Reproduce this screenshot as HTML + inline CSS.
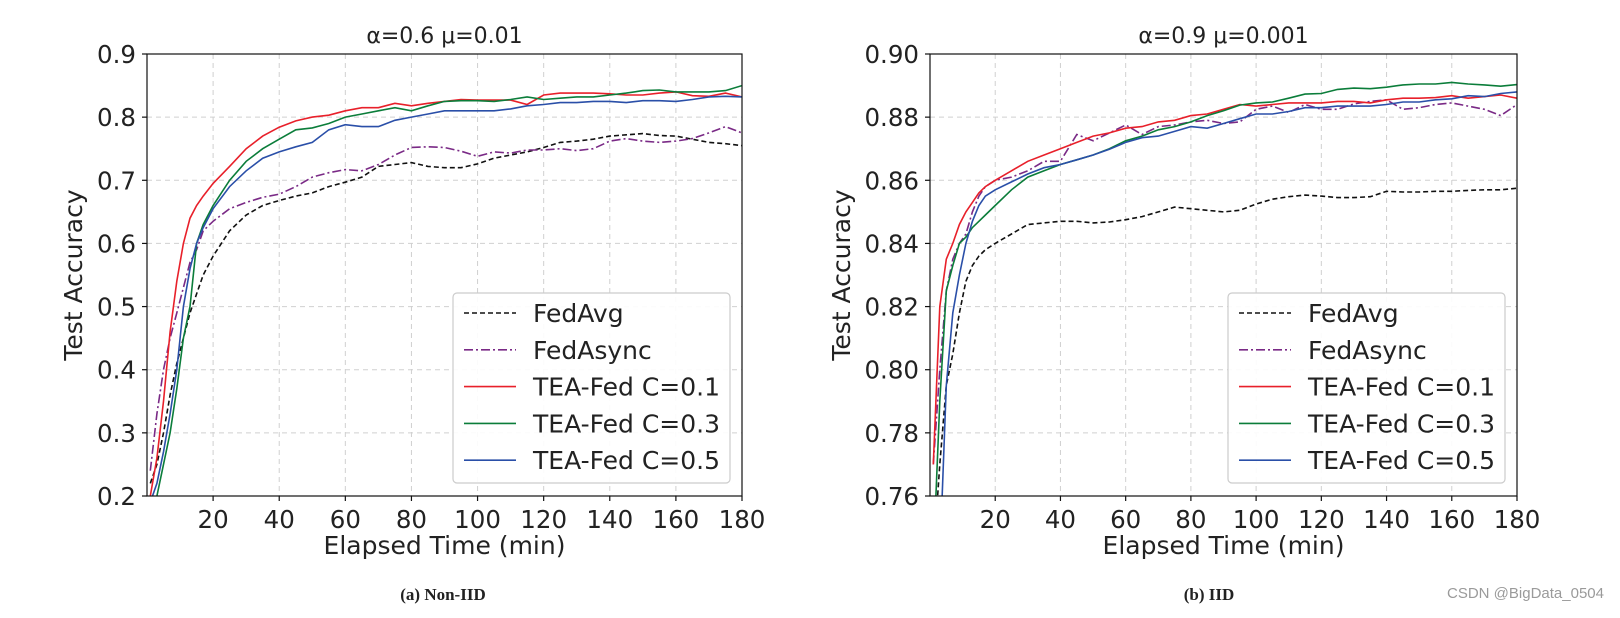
<!DOCTYPE html>
<html><head><meta charset="utf-8">
<style>
body{margin:0;background:#fff;width:1620px;height:614px;overflow:hidden;font-family:"DejaVu Sans","Liberation Sans",sans-serif;}
svg text{fill:#222;}
</style></head>
<body>
<svg id="fig" width="1620" height="614" viewBox="0 0 1620 614" xmlns="http://www.w3.org/2000/svg"></svg>
<script>
const times=[1,3,5,7,9,11,13,15,17,20,25,30,35,40,45,50,55,60,65,70,75,80,85,90,95,100,105,110,115,120,125,130,135,140,145,150,155,160,165,170,175,180];
const seriesNames=["FedAvg","FedAsync","TEA-Fed C=0.1","TEA-Fed C=0.3","TEA-Fed C=0.5"];
const leftFedAvg=[0.22,0.25,0.30,0.36,0.41,0.45,0.49,0.52,0.55,0.58,0.62,0.645,0.66,0.668,0.675,0.68,0.69,0.697,0.705,0.722,0.725,0.728,0.722,0.72,0.72,0.726,0.735,0.74,0.745,0.752,0.76,0.762,0.765,0.77,0.772,0.774,0.771,0.77,0.765,0.76,0.758,0.755];
const leftFedAsync=[0.24,0.33,0.40,0.45,0.49,0.53,0.57,0.59,0.62,0.635,0.655,0.665,0.673,0.678,0.69,0.705,0.712,0.717,0.715,0.725,0.74,0.752,0.753,0.752,0.746,0.738,0.745,0.743,0.748,0.748,0.75,0.747,0.75,0.762,0.766,0.762,0.76,0.762,0.766,0.775,0.785,0.775];
const leftC01=[0.2,0.26,0.35,0.46,0.54,0.6,0.64,0.66,0.675,0.695,0.722,0.75,0.77,0.784,0.794,0.8,0.803,0.81,0.815,0.815,0.822,0.818,0.822,0.825,0.828,0.827,0.827,0.827,0.82,0.835,0.838,0.838,0.838,0.837,0.835,0.835,0.838,0.84,0.834,0.833,0.838,0.832];
const leftC03=[0.17,0.2,0.25,0.3,0.37,0.45,0.5,0.6,0.63,0.66,0.7,0.73,0.75,0.765,0.78,0.783,0.79,0.8,0.805,0.81,0.815,0.81,0.818,0.825,0.826,0.826,0.825,0.828,0.832,0.828,0.83,0.832,0.832,0.835,0.838,0.842,0.843,0.84,0.84,0.84,0.842,0.85];
const leftC05=[0.19,0.22,0.27,0.33,0.4,0.5,0.56,0.6,0.625,0.655,0.69,0.715,0.735,0.745,0.753,0.76,0.78,0.788,0.785,0.785,0.795,0.8,0.805,0.81,0.81,0.81,0.81,0.813,0.818,0.82,0.823,0.823,0.825,0.825,0.823,0.826,0.826,0.825,0.828,0.832,0.833,0.832];
const rightFedAvg=[0.74,0.77,0.795,0.805,0.818,0.828,0.833,0.836,0.838,0.84,0.843,0.846,0.8465,0.847,0.847,0.8465,0.8468,0.8475,0.8485,0.85,0.8515,0.851,0.8505,0.85,0.8505,0.8525,0.854,0.8548,0.8553,0.855,0.8545,0.8545,0.8548,0.8565,0.8563,0.8563,0.8565,0.8565,0.8568,0.857,0.857,0.8575];
const rightFedAsync=[0.77,0.80,0.825,0.835,0.84,0.843,0.85,0.855,0.858,0.86,0.861,0.863,0.866,0.866,0.8745,0.8725,0.875,0.8775,0.8745,0.877,0.8775,0.8785,0.879,0.878,0.8785,0.8825,0.8835,0.8815,0.884,0.8825,0.8825,0.8842,0.885,0.8855,0.8825,0.883,0.884,0.8845,0.8835,0.8825,0.8805,0.884];
const rightC01=[0.77,0.82,0.835,0.84,0.846,0.85,0.853,0.856,0.858,0.86,0.863,0.866,0.868,0.87,0.872,0.874,0.875,0.8765,0.877,0.8785,0.879,0.8805,0.881,0.8825,0.884,0.8835,0.884,0.8845,0.8845,0.8845,0.885,0.885,0.8845,0.8855,0.886,0.886,0.8862,0.8868,0.886,0.8865,0.887,0.886];
const rightC03=[0.74,0.79,0.825,0.833,0.84,0.842,0.845,0.847,0.849,0.852,0.857,0.861,0.863,0.865,0.8665,0.868,0.87,0.8725,0.874,0.876,0.877,0.8785,0.8805,0.882,0.8838,0.8845,0.8848,0.886,0.8873,0.8875,0.8888,0.8892,0.889,0.8895,0.8902,0.8905,0.8905,0.891,0.8905,0.8902,0.8898,0.8903];
const rightC05=[0.72,0.74,0.795,0.818,0.83,0.84,0.847,0.852,0.855,0.857,0.8595,0.862,0.864,0.865,0.8665,0.868,0.8698,0.872,0.8735,0.874,0.8755,0.877,0.8765,0.878,0.8795,0.881,0.881,0.8818,0.883,0.883,0.8835,0.8835,0.8835,0.884,0.8848,0.8848,0.8855,0.8858,0.8868,0.8865,0.8875,0.888];
const xTicks=[20,40,60,80,100,120,140,160,180];
const leftYTicks=[0.2,0.3,0.4,0.5,0.6,0.7,0.8,0.9];
const rightYTicks=[0.76,0.78,0.80,0.82,0.84,0.86,0.88,0.90];

const NS="http://www.w3.org/2000/svg";
const svg=document.getElementById('fig');
function mk(tag,attrs,parent){const e=document.createElementNS(NS,tag);for(const k in attrs)e.setAttribute(k,attrs[k]);(parent||svg).appendChild(e);return e;}
const styles=[
 {color:"#111",dash:"5,3"},
 {color:"#7a2a86",dash:"9,3,2,3"},
 {color:"#e8202a",dash:""},
 {color:"#0b7d3a",dash:""},
 {color:"#2a4fa8",dash:""}];

function panel(cfg){
 const {x0,x1,y0,y1,ymin,ymax,yTicks,dec,series,title,id,capX,caption}=cfg;
 const sx=v=>x0+(v-0)/(180-0)*(x1-x0);
 const sy=v=>y1-(v-ymin)/(ymax-ymin)*(y1-y0);
 const g=mk('g',{});
 
 
 xTicks.forEach(t=>{const l=mk('line',{x1:sx(t),x2:sx(t),y1:y0,y2:y1,stroke:'#d0d0d0','stroke-width':1,'stroke-dasharray':'5,4'},g);
  });
 yTicks.forEach(t=>{const l=mk('line',{x1:x0,x2:x1,y1:sy(t),y2:sy(t),stroke:'#d0d0d0','stroke-width':1,'stroke-dasharray':'5,4'},g);
  });
 const cp=mk('clipPath',{id:'clip-'+id},g);mk('rect',{x:x0,y:y0,width:x1-x0,height:y1-y0},cp);
 series.forEach((vals,i)=>{
  const d=vals.map((v,k)=>(k?'L':'M')+sx(times[k]).toFixed(1)+','+sy(v).toFixed(1)).join('');
  const p=mk('path',{d:d,fill:'none',stroke:styles[i].color,'stroke-width':1.6,'clip-path':'url(#clip-'+id+')'},g);
  if(styles[i].dash)p.setAttribute('stroke-dasharray',styles[i].dash);
  
  
 });
 const fr=mk('rect',{x:x0,y:y0,width:x1-x0,height:y1-y0,fill:'none',stroke:'#111','stroke-width':1.2},g);
 
 xTicks.forEach(t=>{mk('line',{x1:sx(t),x2:sx(t),y1:y1,y2:y1+5,stroke:'#111','stroke-width':1.2},g);
  const tx=mk('text',{x:sx(t),y:y1+32,'text-anchor':'middle','font-size':24.5},g);tx.textContent=t;
  });
 yTicks.forEach(t=>{mk('line',{x1:x0-5,x2:x0,y1:sy(t),y2:sy(t),stroke:'#111','stroke-width':1.2},g);
  const tx=mk('text',{x:x0-11,y:sy(t)+9,'text-anchor':'end','font-size':24.5},g);tx.textContent=t.toFixed(dec);
  });
 const tt=mk('text',{x:(x0+x1)/2,y:y0-11,'text-anchor':'middle','font-size':22},g);tt.textContent=title;
 
 const xl=mk('text',{x:(x0+x1)/2,y:y1+58,'text-anchor':'middle','font-size':25},g);xl.textContent='Elapsed Time (min)';
 
 const yl=mk('text',{x:0,y:0,'text-anchor':'middle','font-size':25,transform:`translate(${x0-(dec==1?65:80)},${(y0+y1)/2}) rotate(-90)`},g);yl.textContent='Test Accuracy';
 
 const lx=x1-289,ly=y1-203;
 const lg=mk('g',{},g);
 mk('rect',{x:lx,y:ly,width:277,height:190,rx:4,fill:'#fff','fill-opacity':0.9,stroke:'#ccc','stroke-width':1.2},lg);
 seriesNames.forEach((n,i)=>{const yy=ly+20+i*36.8;
  const le=mk('g',{},lg);
  const l=mk('line',{x1:lx+11,x2:lx+63,y1:yy,y2:yy,stroke:styles[i].color,'stroke-width':1.6},le);
  if(styles[i].dash)l.setAttribute('stroke-dasharray',styles[i].dash);
  const t=mk('text',{x:lx+80,y:yy+9,'font-size':25},le);t.textContent=n;});
 const cap=mk('text',{x:capX,y:600,'text-anchor':'middle','font-size':17,'font-weight':'bold','font-family':'"Liberation Serif",serif'},g);cap.textContent=caption;
 
}
panel({x0:147,x1:742,y0:54,y1:496,ymin:0.2,ymax:0.9,yTicks:leftYTicks,dec:1,series:[leftFedAvg,leftFedAsync,leftC01,leftC03,leftC05],title:'α=0.6 μ=0.01',id:'non-iid',capX:443,caption:'(a) Non-IID'});
panel({x0:930,x1:1517,y0:54,y1:496,ymin:0.76,ymax:0.90,yTicks:rightYTicks,dec:2,series:[rightFedAvg,rightFedAsync,rightC01,rightC03,rightC05],title:'α=0.9 μ=0.001',id:'iid',capX:1209,caption:'(b) IID'});
const wm=mk('text',{x:1604,y:598,'text-anchor':'end','font-size':15,'font-family':'"Liberation Sans","Noto Sans CJK SC",sans-serif',style:'fill:#9a9a9a'});wm.textContent='CSDN @BigData_0504';


</script>
</body></html>
